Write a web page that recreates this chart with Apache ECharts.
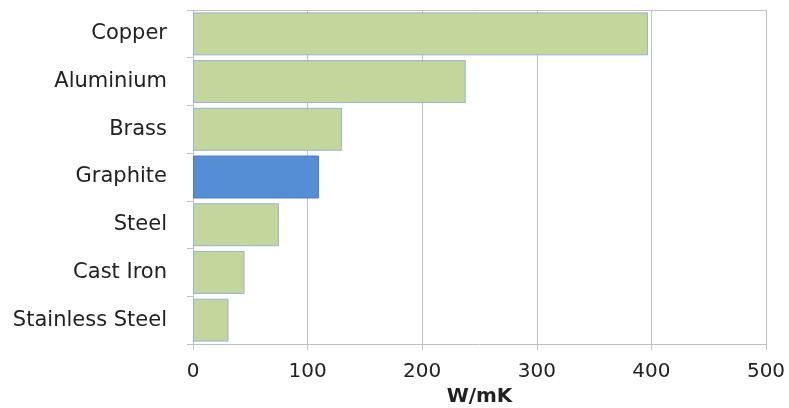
<!DOCTYPE html>
<html><head><meta charset="utf-8">
<script src="https://cdn.jsdelivr.net/npm/echarts@6/dist/echarts.min.js"></script>
<style>html,body{margin:0;padding:0;background:#fff}#c{width:789px;height:408px}</style>
</head><body><div id="c"></div>
<script>
var categories = ["Copper","Aluminium","Brass","Graphite","Steel","Cast Iron","Stainless Steel"];
var values = [397, 238, 130, 110, 75, 45, 31];
var highlight = "Graphite";
var xTicks = [0, 100, 200, 300, 400, 500];

var chart = echarts.init(document.getElementById('c'));
chart.setOption({
  animation: false,
  grid: {left: 193, right: 23, top: 10, bottom: 64, containLabel: false, outerBoundsMode: 'none'},
  xAxis: [{
    type: 'value', min: 0, max: 500, interval: 100,
    name: 'W/mK', nameLocation: 'middle', nameGap: 41,
    nameTextStyle: {fontFamily: 'DejaVu Sans', fontWeight: 'bold', fontSize: 20, color: '#222'},
    axisLabel: {fontFamily: 'DejaVu Sans', fontSize: 20, color: '#222', margin: 18},
    axisLine: {show: true, lineStyle: {color: '#c0c0c0'}},
    axisTick: {show: true, length: 6, lineStyle: {color: '#c0c0c0'}},
    splitLine: {show: true, lineStyle: {color: '#c0c0c0'}}
  }, {
    type: 'value', min: 0, max: 500, position: 'top',
    axisLabel: {show: false}, axisTick: {show: false}, splitLine: {show: false},
    axisLine: {show: true, lineStyle: {color: '#c0c0c0'}}
  }],
  yAxis: {
    type: 'category', data: categories, inverse: true,
    axisLabel: {fontFamily: 'DejaVu Sans', fontSize: 21, color: '#222', margin: 26},
    axisLine: {show: true, lineStyle: {color: '#c0c0c0'}},
    axisTick: {show: true, length: 6, lineStyle: {color: '#c0c0c0'}}
  },
  series: [{
    type: 'bar', barCategoryGap: '10%',
    data: values.map(function(v, i){
      return {value: v, itemStyle: categories[i] === highlight
        ? {color: '#558ed5', borderColor: '#4a7ebb', borderWidth: 1}
        : {color: '#c3d69b', borderColor: '#95b3d7', borderWidth: 1}};
    })
  }]
});
</script></body></html>
